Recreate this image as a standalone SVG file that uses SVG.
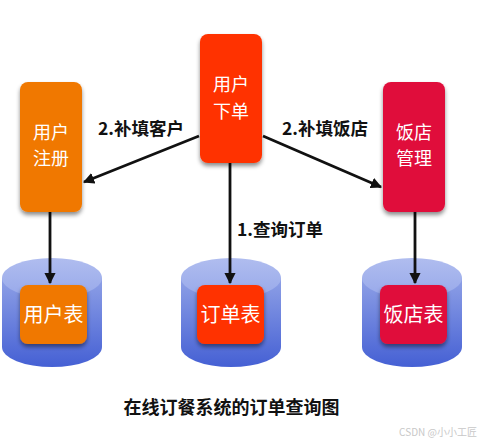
<svg xmlns="http://www.w3.org/2000/svg" width="480" height="444" viewBox="0 0 480 444">
<defs>
<style>
.node text{font-family:"Noto Sans CJK SC","Noto Sans",sans-serif;font-size:18px;fill:#fff;text-anchor:middle}
.lbl{font-family:"Noto Sans CJK SC","Noto Sans",sans-serif;font-size:17.5px;font-weight:bold;fill:#111}
.edge{stroke:#111;stroke-width:2.8;fill:none;marker-end:url(#ah)}
</style>
<marker id="ah" viewBox="0 0 10 10" refX="9" refY="5" markerWidth="4" markerHeight="4" orient="auto" markerUnits="strokeWidth">
<path d="M0,0 L10,5 L0,10 Z" fill="#111"/>
</marker>
<linearGradient id="side" x1="0" y1="0" x2="0" y2="1">
<stop offset="0" stop-color="#8ea0e6"/>
<stop offset="1" stop-color="#4560d4"/>
</linearGradient>
<linearGradient id="top" x1="0" y1="0" x2="0" y2="1">
<stop offset="0" stop-color="#b0bdef"/>
<stop offset="1" stop-color="#97a8ea"/>
</linearGradient>
<filter id="sh" x="-20%" y="-20%" width="140%" height="150%">
<feDropShadow dx="0" dy="3" stdDeviation="2" flood-color="#000" flood-opacity="0.45"/>
</filter>
</defs>
<rect width="480" height="444" fill="#fff"/>

<g id="db-user">
<path d="M2,278 L2,347 A50,20 0 0 0 102,347 L102,278 Z" fill="url(#side)"/>
<ellipse cx="52" cy="278" rx="50" ry="20" fill="url(#top)"/>
</g>
<g id="db-order">
<path d="M181,278 L181,347 A50,20 0 0 0 281,347 L281,278 Z" fill="url(#side)"/>
<ellipse cx="231" cy="278" rx="50" ry="20" fill="url(#top)"/>
</g>
<g id="db-shop">
<path d="M362,278 L362,347 A50,20 0 0 0 462,347 L462,278 Z" fill="url(#side)"/>
<ellipse cx="412" cy="278" rx="50" ry="20" fill="url(#top)"/>
</g>

<g id="connectors">
<line class="edge" x1="199" y1="136" x2="84" y2="182"/>
<line class="edge" x1="263" y1="136" x2="381" y2="187"/>
<line class="edge" x1="50" y1="212" x2="50" y2="283"/>
<line class="edge" x1="230" y1="163" x2="230" y2="283"/>
<line class="edge" x1="415" y1="212" x2="415" y2="283"/>
</g>

<g id="n-register" class="node">
<rect x="20" y="82" width="62" height="130" rx="8" fill="#f07800" filter="url(#sh)"/>
<text x="51" y="138.5">用户<tspan x="51" dy="26.5">注册</tspan></text>
</g>
<g id="n-order" class="node">
<rect x="200" y="34" width="62" height="129" rx="8" fill="#ff3300" filter="url(#sh)"/>
<text x="231" y="91">用户<tspan x="231" dy="26.5">下单</tspan></text>
</g>
<g id="n-shop" class="node">
<rect x="383" y="82" width="62" height="130" rx="8" fill="#e00e3a" filter="url(#sh)"/>
<text x="414" y="138.5">饭店<tspan x="414" dy="26.5">管理</tspan></text>
</g>

<g id="t-user" class="node">
<rect x="20" y="285" width="67" height="59" rx="8" fill="#f07800" filter="url(#sh)"/>
<text x="53.5" y="322" style="font-size:20px">用户表</text>
</g>
<g id="t-order" class="node">
<rect x="197" y="285" width="67" height="59" rx="8" fill="#ff3300" filter="url(#sh)"/>
<text x="230.5" y="322" style="font-size:20px">订单表</text>
</g>
<g id="t-shop" class="node">
<rect x="380" y="285" width="67" height="59" rx="8" fill="#e00e3a" filter="url(#sh)"/>
<text x="413.5" y="322" style="font-size:20px">饭店表</text>
</g>

<text class="lbl" x="98" y="135">2.补填客户</text>
<text class="lbl" x="282" y="135">2.补填饭店</text>
<text class="lbl" x="237" y="236">1.查询订单</text>
<text class="lbl" x="231.5" y="414" text-anchor="middle" style="font-size:18px">在线订餐系统的订单查询图</text>
<text x="477" y="436" text-anchor="end" font-family="'Noto Sans CJK SC','Noto Sans',sans-serif" font-size="10" fill="#c8c8c8">CSDN @小小工匠</text>
</svg>
